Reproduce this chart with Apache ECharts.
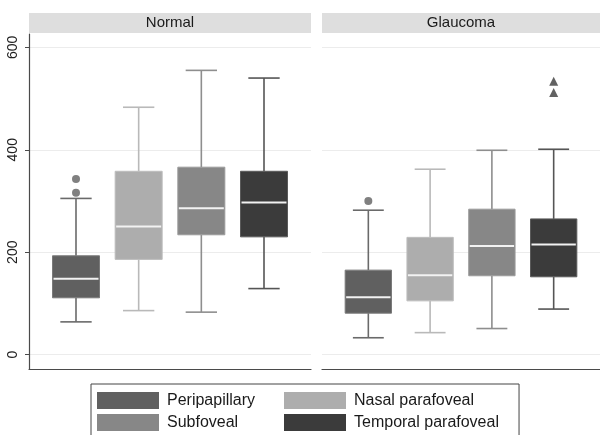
<!DOCTYPE html>
<html>
<head>
<meta charset="utf-8">
<script src="https://cdn.jsdelivr.net/npm/echarts@6/dist/echarts.min.js"></script>
<style>
  html, body { margin: 0; padding: 0; background: #fff; }
  #chart { width: 600px; height: 435px; }
</style>
</head>
<body>
<div id="chart"></div>
<script>
// ---- data ----
const panels = ['Normal', 'Glaucoma'];
const measures = ['Peripapillary', 'Nasal parafoveal', 'Subfoveal', 'Temporal parafoveal'];
// [lower whisker, Q1, median, Q3, upper whisker]
const normalStats = [
  [64, 111, 148, 193, 305],
  [86, 186, 250, 358, 483],
  [83, 234, 286, 366, 555],
  [129, 230, 297, 358, 540]
];
const glaucomaStats = [
  [33, 81, 112, 165, 282],
  [43, 105, 155, 229, 362],
  [51, 154, 212, 284, 399],
  [89, 152, 215, 265, 401]
];
const normalOutliers = [[343, 316], [], [], []];
const glaucomaOutliers = [[300], [], [], [534, 512]];
const yTicks = [0, 200, 400, 600];

// ---- styles ----
const fillColors = ['#606060', '#adadad', '#878787', '#3b3b3b'];
const borderColors = ['#7a7a7a', '#bdbdbd', '#9a9a9a', '#5a5a5a'];
const whiskerColors = ['#6a6a6a', '#b9b9b9', '#8e8e8e', '#555555'];
const outlierSymbols = ['circle', 'circle', 'circle', 'triangle'];
const FONT = '"Liberation Sans", Arial, Helvetica, sans-serif';

const chart = echarts.init(document.getElementById('chart'), null, { renderer: 'canvas' });

function boxRender(mi) {
  return function (params, api) {
    const x = api.value(0);
    const pMin = api.coord([x, api.value(1)]);
    const pQ1 = api.coord([x, api.value(2)]);
    const pMed = api.coord([x, api.value(3)]);
    const pQ3 = api.coord([x, api.value(4)]);
    const pMax = api.coord([x, api.value(5)]);
    const unit = api.size([1, 0])[0];
    const bw = unit * 0.75;
    const cw = unit * 0.5;
    const cx = pMed[0];
    const wStyle = { stroke: whiskerColors[mi], lineWidth: 1.6 };
    return {
      type: 'group',
      children: [
        { type: 'line', shape: { x1: cx, y1: pQ3[1], x2: cx, y2: pMax[1] }, style: wStyle },
        { type: 'line', shape: { x1: cx, y1: pQ1[1], x2: cx, y2: pMin[1] }, style: wStyle },
        { type: 'line', shape: { x1: cx - cw / 2, y1: pMax[1], x2: cx + cw / 2, y2: pMax[1] }, style: wStyle },
        { type: 'line', shape: { x1: cx - cw / 2, y1: pMin[1], x2: cx + cw / 2, y2: pMin[1] }, style: wStyle },
        { type: 'rect', shape: { x: cx - bw / 2, y: pQ3[1], width: bw, height: pQ1[1] - pQ3[1] },
          style: { fill: fillColors[mi], stroke: borderColors[mi], lineWidth: 1 } },
        { type: 'line', shape: { x1: cx - bw / 2 + 1, y1: pMed[1], x2: cx + bw / 2 - 1, y2: pMed[1] },
          style: { stroke: '#f2f2f2', lineWidth: 2 } }
      ]
    };
  };
}

const statsByPanel = [normalStats, glaucomaStats];
const outliersByPanel = [normalOutliers, glaucomaOutliers];
const series = [];
for (let p = 0; p < 2; p++) {
  for (let m = 0; m < measures.length; m++) {
    const s = statsByPanel[p][m];
    series.push({
      type: 'custom',
      name: measures[m],
      xAxisIndex: p,
      yAxisIndex: p,
      itemStyle: { color: fillColors[m] },
      encode: { x: 0, y: [1, 2, 3, 4, 5] },
      renderItem: boxRender(m),
      data: [[m, s[0], s[1], s[2], s[3], s[4]]],
      silent: true
    });
    if (outliersByPanel[p][m].length) {
      series.push({
        type: 'scatter',
        name: measures[m],
        xAxisIndex: p,
        yAxisIndex: p,
        symbol: outlierSymbols[m],
        symbolSize: outlierSymbols[m] === 'triangle' ? 9 : 8,
        itemStyle: { color: fillColors[m] },
        data: outliersByPanel[p][m].map(v => [m, v]),
        silent: true
      });
    }
  }
}

const grids = [
  { left: 29, top: 34, width: 282, height: 335 },
  { left: 322, top: 34, width: 282, height: 335 }
];

const xAxes = grids.map((g, i) => ({
  type: 'value', gridIndex: i, min: -0.75, max: 3.75,
  axisLine: { show: true, onZero: false, lineStyle: { color: '#4a4a4a', width: 1.2 } },
  axisTick: { show: false }, axisLabel: { show: false }, splitLine: { show: false }
}));

const yAxes = grids.map((g, i) => ({
  type: 'value', gridIndex: i, min: -28, max: 626,
  axisLine: { show: i === 0, onZero: false, lineStyle: { color: '#4a4a4a', width: 1.2 } },
  axisTick: { show: i === 0, length: 4, customValues: yTicks, lineStyle: { color: '#4a4a4a' } },
  axisLabel: { show: i === 0, customValues: yTicks, rotate: 90, margin: 9,
    fontFamily: FONT, fontSize: 14, color: '#222' },
  splitLine: { show: true, lineStyle: { color: '#ececec', width: 1 } }
}));

const headerGraphics = panels.map((name, i) => ({
  type: 'group',
  left: grids[i].left, top: 13,
  children: [
    { type: 'rect', shape: { x: 0, y: 0, width: grids[i].width, height: 20 }, style: { fill: '#dedede' } },
    { type: 'text', x: grids[i].width / 2 - (i === 1 ? 2 : 0), y: 10,
      style: { text: name, fontFamily: FONT, fontSize: 15, fill: '#1a1a1a', align: 'center', verticalAlign: 'middle' } }
  ]
}));

const legendCommon = {
  orient: 'vertical',
  height: 80,
  itemWidth: 62, itemHeight: 17, itemGap: 5,
  selectedMode: false,
  textStyle: { fontFamily: FONT, fontSize: 16, color: '#1a1a1a', padding: [0, 0, 0, 3] }
};
const legendItem = i => ({ name: measures[i], icon: 'rect', itemStyle: { color: fillColors[i] } });

chart.setOption({
  animation: false,
  backgroundColor: '#ffffff',
  grid: grids,
  xAxis: xAxes,
  yAxis: yAxes,
  graphic: headerGraphics,
  legend: [
    Object.assign({}, legendCommon, {
      left: 91, top: 384,
      padding: [8, 264, 10, 6],
      borderColor: '#444', borderWidth: 1,
      data: [legendItem(0), legendItem(2)]
    }),
    Object.assign({}, legendCommon, {
      left: 284, top: 392,
      padding: 0,
      z: 5,
      data: [legendItem(1), legendItem(3)]
    })
  ],
  series: series
});
</script>
</body>
</html>
